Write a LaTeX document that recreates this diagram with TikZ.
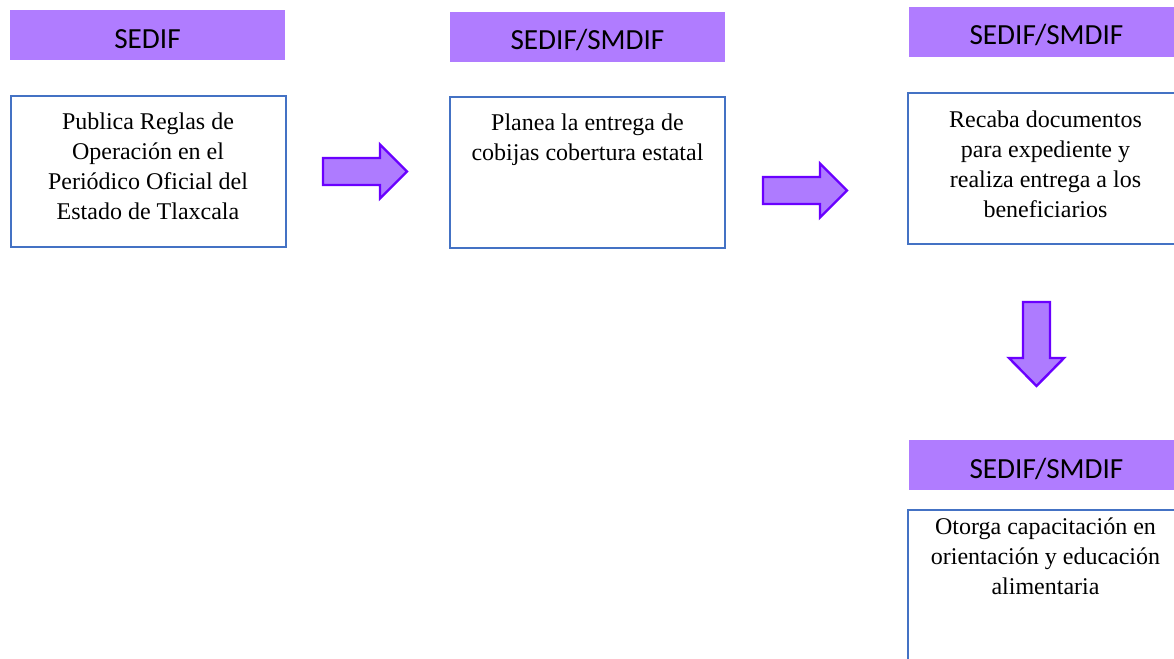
\documentclass[tikz,border=0pt]{standalone}
\usepackage{fontspec}
\setmainfont{Liberation Serif}
\newfontfamily\hdrfont{Carlito}
\definecolor{hdr}{HTML}{B07CFF}
\definecolor{arrfill}{HTML}{AE7BFF}
\definecolor{arrline}{HTML}{6A00FF}
\definecolor{boxline}{HTML}{4472C4}
\begin{document}
\begin{tikzpicture}[x=0.75pt,y=-0.75pt,
  header/.style={fill=hdr, draw=none, minimum width=206.25pt, minimum height=37.5pt, inner sep=0pt,
    font=\hdrfont\fontsize{21.9}{26}\selectfont, text height=19.5pt, text depth=0pt},
  stepbox/.style={draw=boxline, line width=1.5pt, minimum width=206.25pt, minimum height=113.25pt, inner sep=0pt},
  body/.style={align=center, inner sep=0pt, font=\fontsize{18}{22.3}\selectfont},
  blockarrow/.style={fill=arrfill, draw=arrline, line width=1.8pt, line join=miter}]
\useasboundingbox (0,0) rectangle (1174,658);
\fill[white] (0,0) rectangle (1174,658);

% headers
\node[header] (h1) at (147.5,35) {SEDIF};
\node[header] (h2) at (587.5,36.5) {SEDIF/SMDIF};
\node[header] (h3) at (1046.5,31.5) {SEDIF/SMDIF};
\node[header] (h4) at (1046.5,465) {SEDIF/SMDIF};

% boxes
\node[stepbox] (b1) at (148,171.5) {};
\node[stepbox] (b2) at (587.5,172.5) {};
\node[stepbox] (b3) at (1045.5,168.5) {};
\node[stepbox] (b4) at (1045.5,585.5) {};

% texts (anchor base = baseline of the last line)
\node[body, anchor=base] (t1) at (148,219) {Publica Reglas de\\Operación en el\\Periódico Oficial del\\Estado de Tlaxcala};
\node[body, anchor=base] (t2) at (587.5,160) {Planea la entrega de\\cobijas cobertura estatal};
\node[body, anchor=base] (t3) at (1045.5,217) {Recaba documentos\\para expediente y\\realiza entrega a los\\beneficiarios};
\node[body, anchor=base] (t4) at (1045.5,594) {Otorga capacitación en\\orientación y educación\\alimentaria};

% block arrows
\draw[blockarrow] (323,158) -- (380,158) -- (380,144.5) -- (407,171.5) -- (380,198.5) -- (380,185) -- (323,185) -- cycle;
\draw[blockarrow] (763,177) -- (820,177) -- (820,163.5) -- (847,190.5) -- (820,217.5) -- (820,204) -- (763,204) -- cycle;
\draw[blockarrow] (1023,302) -- (1050,302) -- (1050,358) -- (1064,358) -- (1036.5,386) -- (1009,358) -- (1023,358) -- cycle;
\end{tikzpicture}
\end{document}
